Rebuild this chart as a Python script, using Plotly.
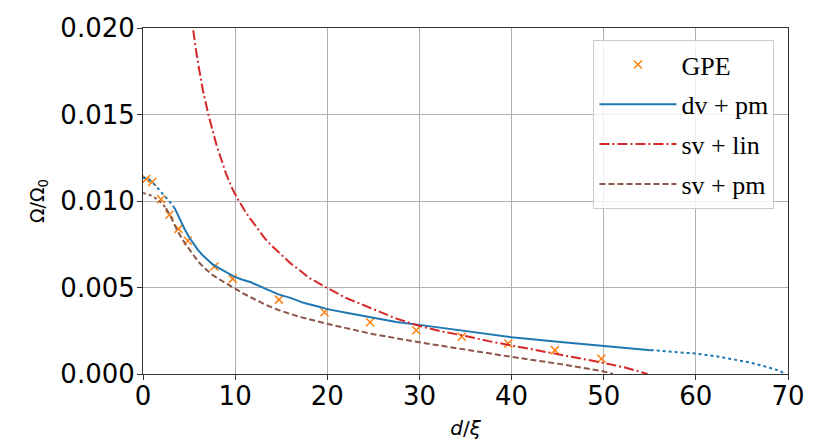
import plotly.graph_objects as go

# GPE data points
gpe_d = [0.35, 1.0, 1.95, 2.87, 3.85, 4.86, 7.75, 9.74, 14.75, 19.7, 24.65, 29.65, 34.6, 39.65, 44.7, 49.75]
gpe_v = [0.01127, 0.0111, 0.0101, 0.0092, 0.00839, 0.0077, 0.00621, 0.0055, 0.0043, 0.00357, 0.00299, 0.00253, 0.00215, 0.00176, 0.00138, 0.00088]

# dv + pm (solid part and dotted extensions)
dvpm_d = [3.42, 3.8, 4.1, 4.5, 5.0, 5.5, 6.0, 6.5, 7.0, 7.6, 8.3, 9.1, 9.9, 10.8, 11.7, 13.2, 14.7, 16, 17.5, 19, 20, 22.5, 25, 27.5, 30, 35, 40, 45, 47.3, 50, 52.5, 55.1]
dvpm_v = [0.0096, 0.00915, 0.0088, 0.0084, 0.0079, 0.0075, 0.00715, 0.00685, 0.0066, 0.00632, 0.0061, 0.00585, 0.00563, 0.00545, 0.0053, 0.00495, 0.0046, 0.0044, 0.0041, 0.0039, 0.00375, 0.0035, 0.00325, 0.0030, 0.00284, 0.0025, 0.00213, 0.00187, 0.00175, 0.00163, 0.0015, 0.00138]
dvpm_lo_d = [0, 0.5, 1, 1.5, 2, 2.5, 3, 3.42]
dvpm_lo_v = [0.01135, 0.0113, 0.0111, 0.0108, 0.01048, 0.01022, 0.0099, 0.0096]
dvpm_hi_d = [55.1, 57.5, 60, 62.5, 64.3, 66, 68, 69, 69.7]
dvpm_hi_v = [0.00138, 0.0013, 0.00118, 0.00100, 0.00084, 0.00065, 0.00036, 0.0002, 0.0]

# sv + lin
svlin_d = [5.2, 5.4, 5.7, 6.0, 6.5, 7.14, 7.6, 8.0, 8.5, 9.0, 9.7, 10.3, 11.2, 12, 13.2, 14, 15, 16, 17, 18.06, 19.9, 22, 25, 27.5, 30, 32.5, 35, 37.5, 40, 42.5, 45, 47.3, 50, 52.5, 54.75]
svlin_v = [0.0209, 0.0200, 0.0189, 0.0179, 0.0164, 0.0149, 0.0139, 0.0132, 0.0124, 0.0116, 0.0107, 0.0101, 0.0093, 0.0087, 0.00785, 0.0074, 0.0069, 0.0064, 0.0060, 0.00555, 0.0050, 0.0044, 0.00375, 0.0032, 0.00278, 0.00245, 0.0022, 0.0019, 0.00165, 0.0014, 0.00113, 0.00088, 0.00064, 0.00035, 0.0]

# sv + pm (dotted start and dashed part)
svpm_lo_d = [0, 0.5, 1, 1.5, 2, 2.5]
svpm_lo_v = [0.01046, 0.0104, 0.0103, 0.0101, 0.0099, 0.00958]
svpm_d = [2.5, 3.1, 3.78, 4.5, 5.2, 6.0, 6.67, 7.6, 8.66, 9.7, 10.8, 12, 13.3, 14.7, 17, 20, 22.5, 25, 30, 35, 40, 45, 47.3, 50, 51]
svpm_v = [0.00958, 0.0090, 0.00823, 0.0076, 0.00708, 0.0065, 0.00612, 0.0057, 0.00535, 0.0050, 0.00468, 0.00435, 0.0040, 0.0037, 0.0033, 0.0029, 0.0026, 0.0023, 0.00183, 0.0014, 0.00099, 0.0006, 0.0004, 0.00015, 0.0]

x_ticks = [0, 10, 20, 30, 40, 50, 60, 70]
y_ticks = [0.0, 0.005, 0.010, 0.015, 0.020]
y_tick_text = ["0.000", "0.005", "0.010", "0.015", "0.020"]

BLUE = "#1f77b4"
ORANGE = "#ff7f0e"
RED = "#d62728"
BROWN = "#8c564b"

fig = go.Figure()

fig.add_trace(go.Scatter(x=gpe_d, y=gpe_v, mode="markers", name="GPE", legendgroup="a",
                         marker=dict(symbol="x-thin", size=8, color=ORANGE,
                                     line=dict(color=ORANGE, width=1.5))))
fig.add_trace(go.Scatter(x=dvpm_d, y=dvpm_v, mode="lines", name="dv + pm", legendgroup="b",
                         line=dict(color=BLUE, width=2)))
fig.add_trace(go.Scatter(x=dvpm_lo_d, y=dvpm_lo_v, mode="lines", showlegend=False, legendgroup="b",
                         line=dict(color=BLUE, width=2, dash="dot")))
fig.add_trace(go.Scatter(x=dvpm_hi_d, y=dvpm_hi_v, mode="lines", showlegend=False, legendgroup="b",
                         line=dict(color=BLUE, width=2, dash="dot")))
fig.add_trace(go.Scatter(x=svlin_d, y=svlin_v, mode="lines", name="sv + lin", legendgroup="c",
                         line=dict(color=RED, width=2, dash="10px,3px,2px,3px")))
fig.add_trace(go.Scatter(x=svpm_d, y=svpm_v, mode="lines", name="sv + pm", legendgroup="d",
                         line=dict(color=BROWN, width=2, dash="6px,3px")))
fig.add_trace(go.Scatter(x=svpm_lo_d, y=svpm_lo_v, mode="lines", showlegend=False, legendgroup="d",
                         line=dict(color=BROWN, width=2, dash="dot")))

axis_common = dict(
    showgrid=True, gridcolor="#b0b0b0", gridwidth=1,
    showline=True, linecolor="#333333", linewidth=1, mirror=True,
    ticks="outside", ticklen=5, tickcolor="#333333", tickwidth=1,
    zeroline=False, automargin=False,
    tickfont=dict(family="DejaVu Sans", size=26, color="black"),
)

fig.update_layout(
    width=831, height=441,
    margin=dict(l=143, r=43, t=28, b=67),
    paper_bgcolor="white", plot_bgcolor="white",
    xaxis=dict(range=[0, 70], tickvals=x_ticks, ticklabelstandoff=-6,
               title=dict(text="<i>d</i>/<i>ξ</i>", standoff=10,
                          font=dict(family="DejaVu Sans", size=20, color="black")),
               **axis_common),
    yaxis=dict(range=[0, 0.020], tickvals=y_ticks, ticktext=y_tick_text, ticklabelstandoff=-3,
               title=dict(text="Ω/Ω<sub>0</sub>", standoff=10,
                          font=dict(family="DejaVu Sans", size=19, color="black")),
               **axis_common),
    legend=dict(x=0.979, xanchor="right", y=0.965, yanchor="top",
                bgcolor="rgba(255,255,255,0.8)", bordercolor="#cccccc", borderwidth=1,
                font=dict(family="Liberation Serif", size=26, color="black"),
                itemwidth=77, traceorder="grouped", tracegroupgap=3),
    showlegend=True,
)

fig.write_html("out.html", config={"displayModeBar": False},
               post_script="document.body.style.margin='0';document.body.style.overflow='hidden';")
